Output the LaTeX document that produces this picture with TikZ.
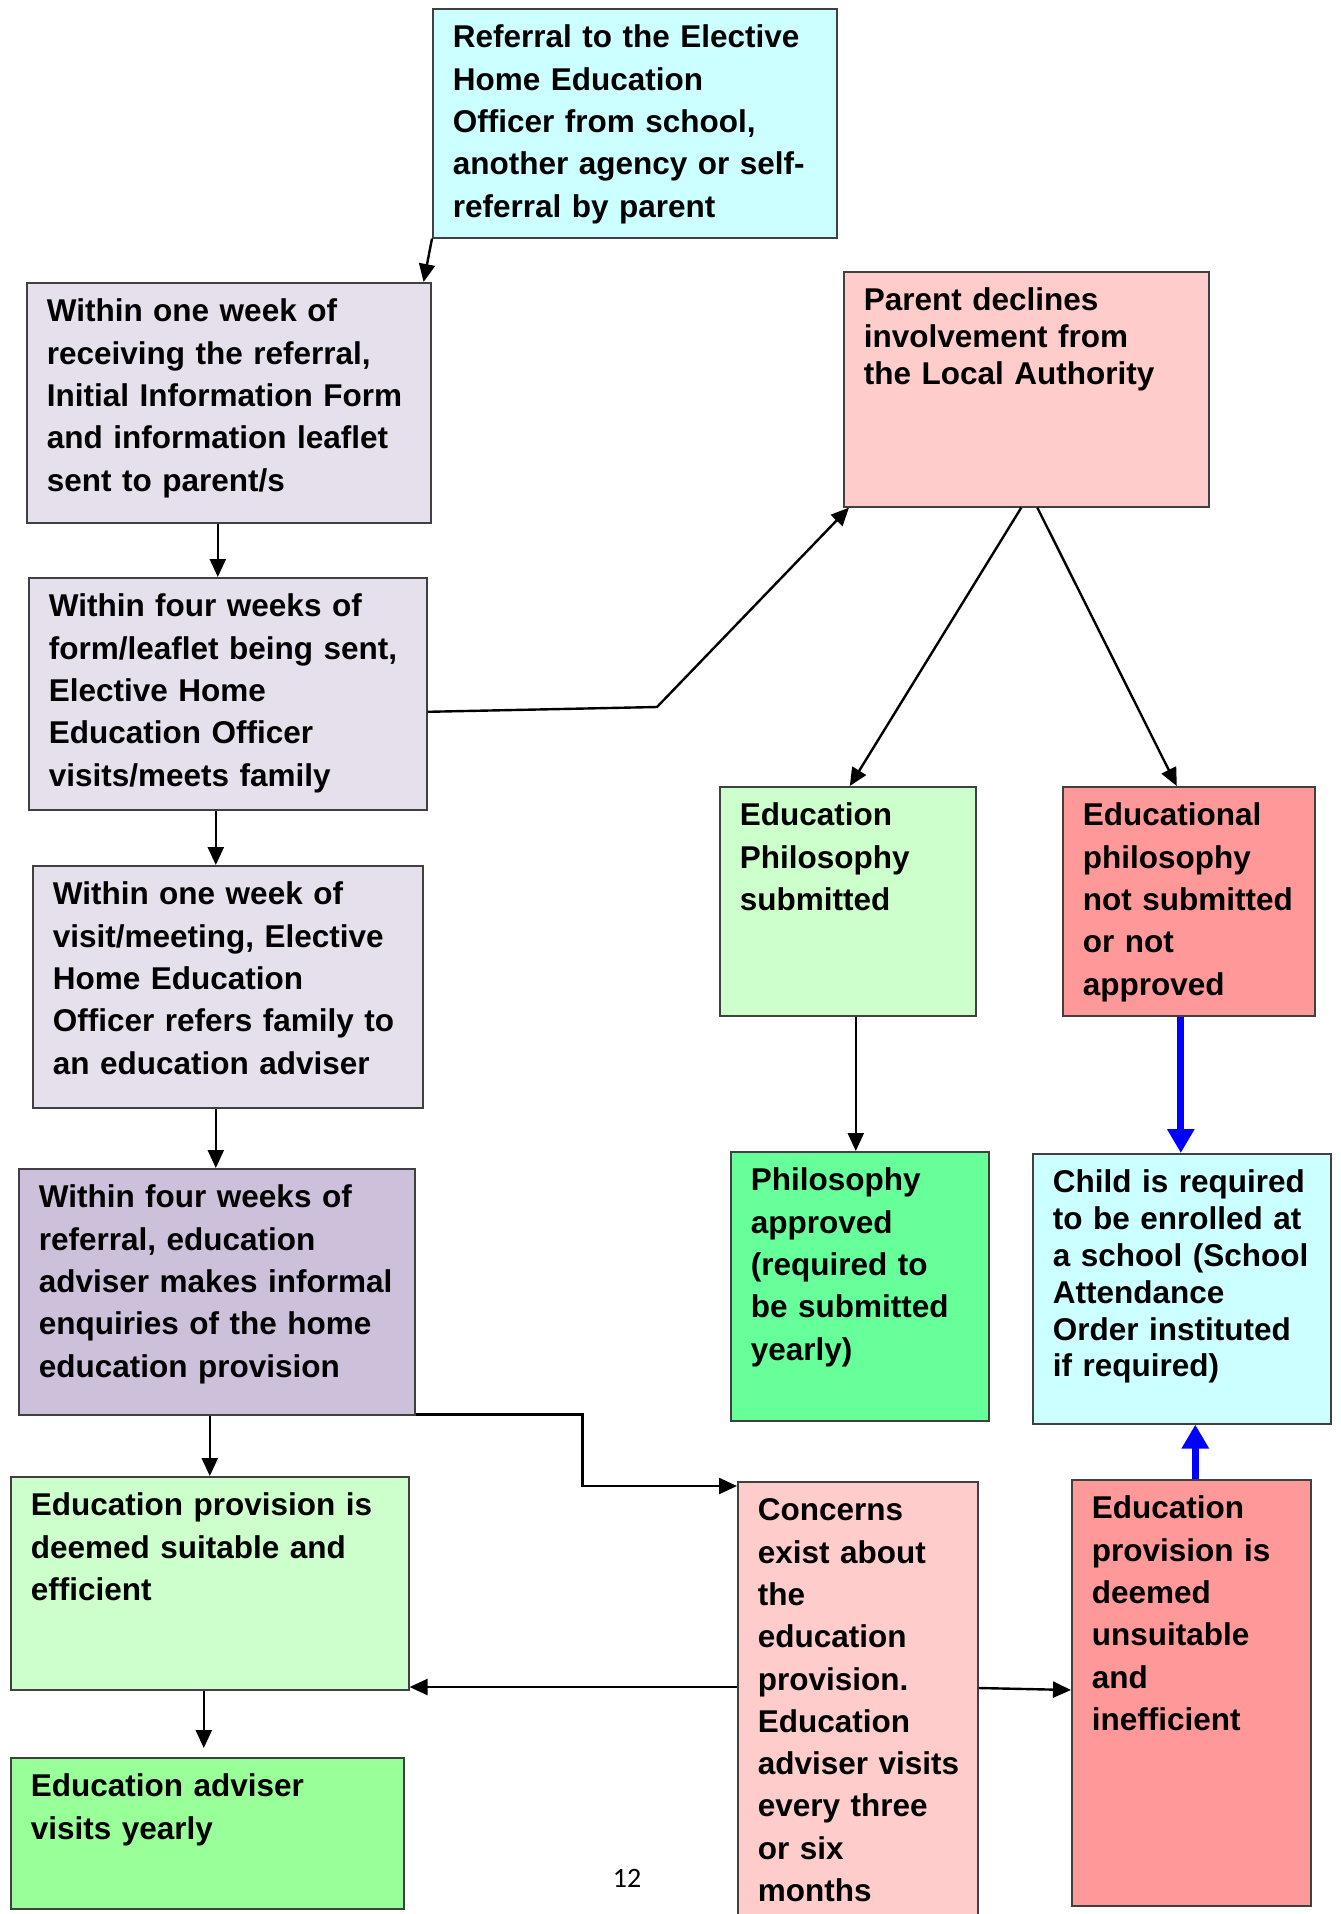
\documentclass[tikz,border=0pt]{standalone}
\usepackage{fontspec}
\setmainfont{Liberation Sans}
\newfontfamily\pagefont{Carlito}
\usetikzlibrary{arrows.meta}
\definecolor{paleCyan}{HTML}{CCFFFF}
\definecolor{lavender}{HTML}{E6E0EC}
\definecolor{lilac}{HTML}{CCC0DA}
\definecolor{paleGreen}{HTML}{CCFFCC}
\definecolor{midGreen}{HTML}{99FF99}
\definecolor{brightGreen}{HTML}{66FF99}
\definecolor{palePink}{HTML}{FFCCCC}
\definecolor{salmon}{HTML}{FF9999}
\hyphenpenalty=10000
\exhyphenpenalty=10000

\begin{document}
\begin{tikzpicture}[x=1pt, y=-1pt]
    \tikzset{box/.style = {draw=black!75, line width=1.6pt, anchor=north west, align=left,
        inner xsep=20pt, inner ysep=0pt, text height=39pt,
        font=\fontsize{31.5}{42.3}\selectfont\bfseries}}
    \tikzset{tight/.style = {font=\fontsize{31.5}{36.8}\selectfont\bfseries}}
    \tikzset{edge/.style = {draw=black, line width=2.4pt, -{Triangle[length=18pt, width=16pt]}}}
    \tikzset{blueedge/.style = {draw=blue, line width=7pt, -{Triangle[length=24pt, width=26pt]}}}

    \useasboundingbox (0,0) rectangle (1341,1914);

    % boxes
    \node[box, fill=paleCyan, text width=364pt, text depth=190pt] (r) at (432,8)
        {Referral to the Elective\\Home Education\\Officer from school,\\another agency or self-\\referral by parent};
    \node[box, fill=lavender, text width=364pt, text depth=201pt] (a) at (26,282)
        {Within one week of\\receiving the referral,\\Initial Information Form\\and information leaflet\\sent to parent/s};
    \node[box, fill=lavender, text width=358pt, text depth=193pt] (b) at (28,577)
        {Within four weeks of\\form/leaflet being sent,\\Elective Home\\Education Officer\\visits/meets family};
    \node[box, fill=lavender, text width=350pt, text depth=203pt] (c) at (32,865)
        {Within one week of\\visit/meeting, Elective\\Home Education\\Officer refers family to\\an education adviser};
    \node[box, fill=lilac, text width=356pt, text depth=207pt] (d) at (18,1168)
        {Within four weeks of\\referral, education\\adviser~makes~informal\\enquiries of the home\\education provision};
    \node[box, fill=paleGreen, text width=358pt, text depth=174pt] (e) at (10,1476)
        {Education provision is\\deemed suitable and\\efficient};
    \node[box, fill=midGreen, text width=353pt, text depth=112pt] (f) at (10,1757)
        {Education adviser\\visits yearly};
    \node[box, tight, fill=palePink, text width=325pt, text depth=196pt] (g) at (843,271)
        {Parent declines\\involvement from\\the Local Authority};
    \node[box, fill=paleGreen, text width=216pt, text depth=190pt] (h) at (719,786)
        {Education\\Philosophy\\submitted};
    \node[box, fill=salmon, text width=212pt, text depth=190pt] (i) at (1062,786)
        {Educational\\philosophy\\not~submitted\\or not\\approved};
    \node[box, fill=brightGreen, text width=218pt, text depth=230pt] (j) at (730,1151)
        {Philosophy\\approved\\(required to\\be submitted\\yearly)};
    \node[box, tight, fill=paleCyan, text width=258pt, text depth=231pt] (k) at (1032,1153)
        {Child is required\\to be enrolled at\\a~school~(School\\Attendance\\Order instituted\\if required)};
    \node[box, fill=palePink, text width=200pt, text depth=430pt] (l) at (737,1481)
        {Concerns\\exist about\\the\\education\\provision.\\Education\\adviser~visits\\every three\\or six\\months};
    \node[box, fill=salmon, text width=199pt, text depth=387pt] (m) at (1071,1479)
        {Education\\provision is\\deemed\\unsuitable\\and\\inefficient};
    \node[font=\pagefont\fontsize{28}{30}\selectfont] (pg) at (627,1878) {12};

    % edges
    \draw[edge] (r.south west) -- ([xshift=-8pt]a.north east);
    \draw[edge] ([xshift=-11pt]a.south) -- ([xshift=-11pt]a.south |- b.north);
    \draw[edge] ([xshift=-12pt]b.south) -- ([xshift=-12pt]b.south |- c.north);
    \draw[edge] ([xshift=-12pt]c.south) -- ([xshift=-12pt]c.south |- d.north);
    \draw[edge] ([xshift=-7pt]d.south) -- ([xshift=-7pt]d.south |- e.north);
    \draw[edge, shorten >=9pt] ([xshift=-6pt]e.south) -- ([xshift=-6pt]e.south |- f.north);
    \coordinate (bend) at (657,707);
    \draw[edge] ([yshift=-18pt]b.east) -- (bend) -- ([xshift=6pt]g.south west);
    \draw[edge] ([xshift=-5pt]g.south) -- ([xshift=2pt]h.north);
    \draw[edge] ([xshift=11pt]g.south) -- ([xshift=-12pt]i.north);
    \draw[edge] ([xshift=8pt]h.south) -- ([xshift=8pt]h.south |- j.north);
    \draw[blueedge] ([xshift=-8pt]i.south) -- ([xshift=-8pt]i.south |- k.north);
    \draw[blueedge] ([xshift=4pt]m.north) -- ([xshift=4pt]m.north |- k.south);
    \draw[edge] ([yshift=1pt]d.south east) -- ++(167,0) |- ([yshift=-5pt]l.north west);
    \draw[edge] (l.west |- 0,1687) -- (e.east |- 0,1687);
    \draw[edge] (l.east |- 0,1688) -- (m.west |- 0,1690);
\end{tikzpicture}
\end{document}
